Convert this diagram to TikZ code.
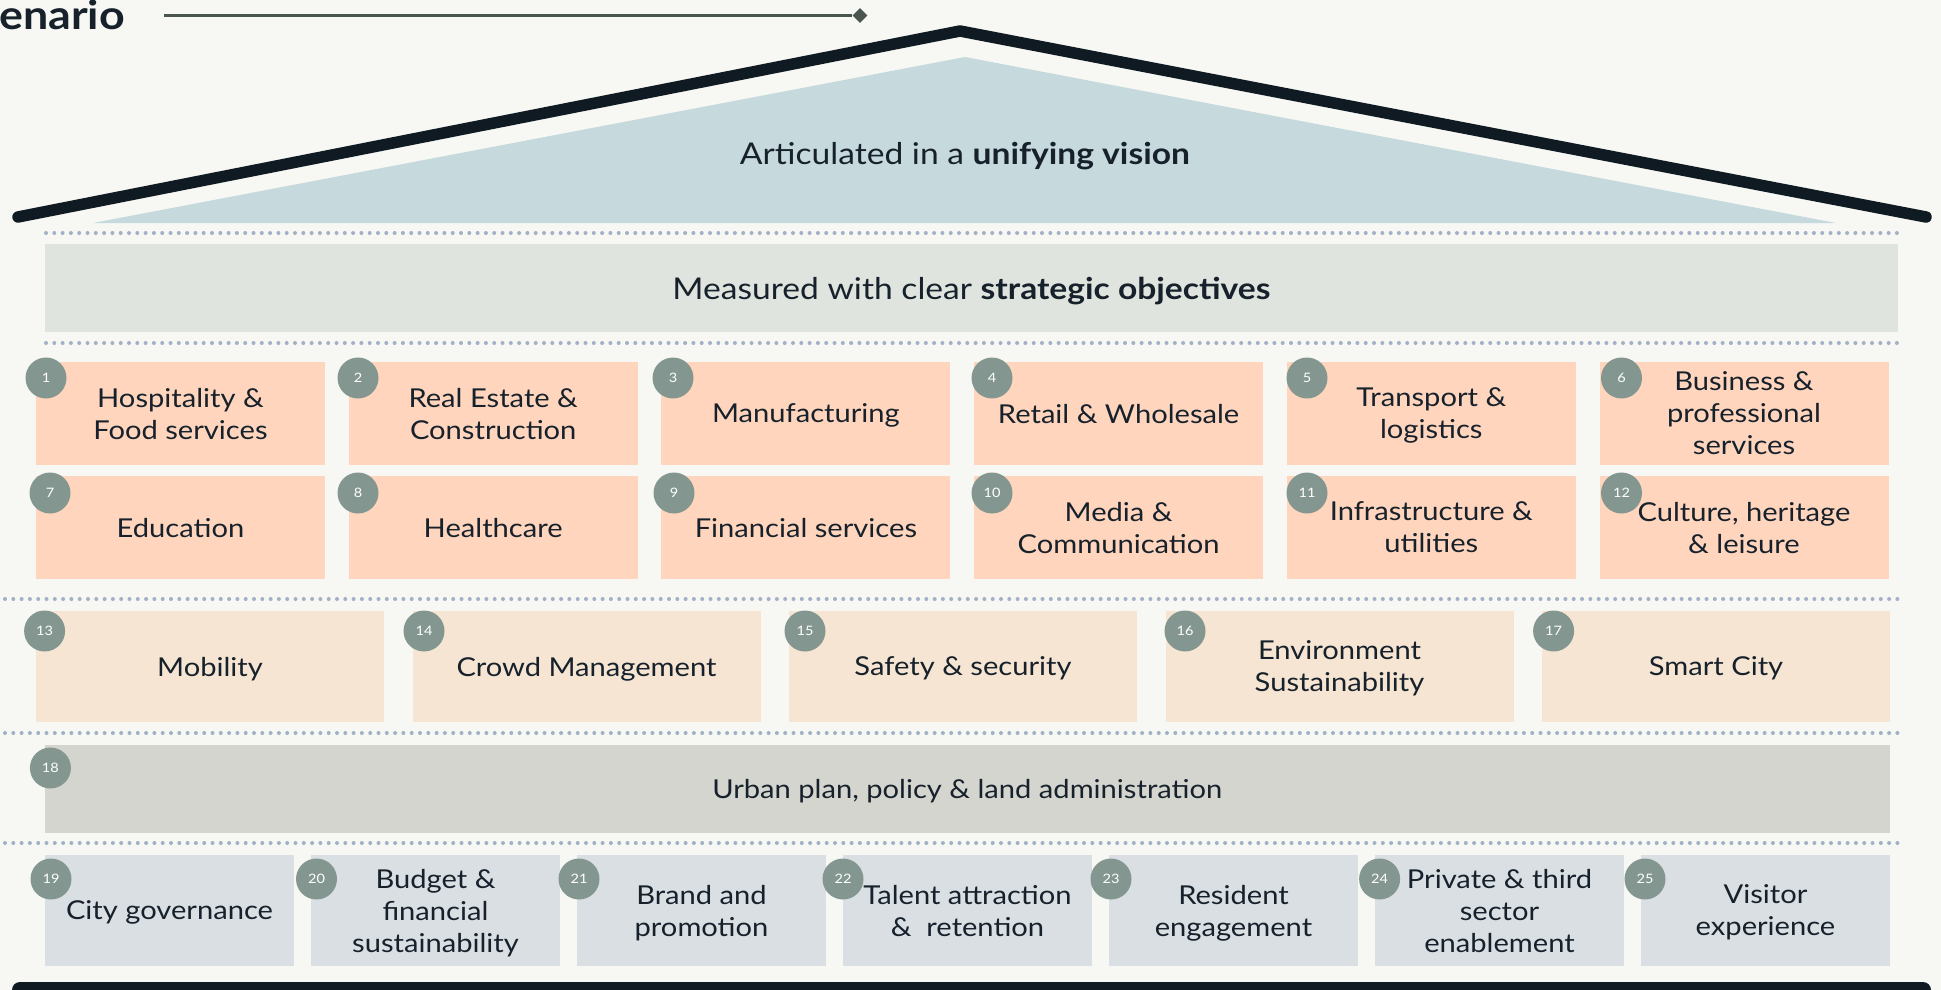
\documentclass[tikz,border=0pt]{standalone}
\usepackage{fontspec}
\setmainfont{Lato}[FakeStretch=1.12]
\usetikzlibrary{shapes.geometric}
\definecolor{bg}{HTML}{F7F8F4}
\definecolor{peach}{HTML}{FFD5BD}
\definecolor{sand}{HTML}{F5E5D2}
\definecolor{urban}{HTML}{D4D5CF}
\definecolor{gov}{HTML}{D9DFE3}
\definecolor{measc}{HTML}{DFE4DF}
\definecolor{roofblue}{HTML}{C6D9DC}
\definecolor{badgec}{HTML}{83968F}
\definecolor{dotc}{HTML}{A3B1C6}
\definecolor{ink}{HTML}{17212B}
\definecolor{roofc}{HTML}{0F1A22}
\definecolor{linec}{HTML}{4A5550}
\begin{document}
\begin{tikzpicture}[x=1pt,y=-1pt,
  lbl/.style={font=\fontsize{26}{32}\selectfont, text=ink, align=center, inner sep=0pt, outer sep=0pt, text depth=-2pt},
  tile/.style={lbl, rectangle, draw=none},
  tileA/.style={tile, fill=peach, minimum width=289pt, minimum height=103pt},
  tileB/.style={tile, fill=sand, minimum width=348pt, minimum height=111pt},
  tileC/.style={tile, fill=gov, minimum width=249pt, minimum height=111pt},
  badge/.style={circle, fill=badgec, text=white, minimum size=41pt, inner sep=0pt, font=\fontsize{13}{13}\selectfont},
  dots/.style={draw=dotc, line width=4pt, line cap=round, dash pattern=on 0pt off 8.3pt},
]
\useasboundingbox (0,0) rectangle (1941,990);
\fill[bg] (0,0) rectangle (1941,990);

% header
\node[anchor=base west, inner sep=0pt, text=ink, font=\bfseries\fontsize{40}{40}\selectfont] (hdr) at (-1,30) {enario};
\coordinate (hl) at (164,15.5);
\node[diamond, fill=linec, minimum size=15pt, inner sep=0pt] (hd) at (860,15.5) {};
\draw[linec, line width=2.2pt] (hl) -- (hd);

% roof
\fill[roofblue] (93,223) -- (965,57) -- (1836,223) -- cycle;
\draw[roofc, line width=11.5pt, line cap=round, line join=round] (18,217) -- (960,31) -- (1926,217);
\node[lbl, font=\fontsize{30}{36}\selectfont] (vision) at (965,153) {Articulated in a \textbf{unifying vision}};

% measured
\draw[dots] (46,233) -- (1898,233);
\node[tile, fill=measc, minimum width=1853pt, minimum height=88pt, font=\fontsize{30}{36}\selectfont] (meas) at (971.5,288) {Measured with clear \textbf{strategic objectives}};
\draw[dots] (46,343) -- (1898,343);

% row 1
\node[tileA] (b1) at (180.5,413.5) {Hospitality \&\\Food services};
\node[tileA] (b2) at (493.2,413.5) {Real Estate \&\\Construction};
\node[tileA] (b3) at (805.9,413.5) {Manufacturing};
\node[tileA] (b4) at (1118.6,413.5) {Retail \& Wholesale};
\node[tileA] (b5) at (1431.3,413.5) {Transport \&\\logistics};
\node[tileA] (b6) at (1744,413.5) {Business \&\\professional\\services};
% row 2
\node[tileA] (b7) at (180.5,527.5) {Education};
\node[tileA] (b8) at (493.2,527.5) {Healthcare};
\node[tileA] (b9) at (805.9,527.5) {Financial services};
\node[tileA] (b10) at (1118.6,527.5) {Media \&\\Communication};
\node[tileA] (b11) at (1431.3,527.5) {Infrastructure \&\\utilities};
\node[tileA] (b12) at (1744,527.5) {Culture, heritage\\\& leisure};

\draw[dots] (5,599) -- (1900,599);
% row 3
\node[tileB] (b13) at (210,666.5) {Mobility};
\node[tileB] (b14) at (586.5,666.5) {Crowd Management};
\node[tileB] (b15) at (963,666.5) {Safety \& security};
\node[tileB] (b16) at (1339.5,666.5) {Environment\\Sustainability};
\node[tileB] (b17) at (1716,666.5) {Smart City};

\draw[dots] (5,733) -- (1900,733);
% row 4
\node[tile, fill=urban, minimum width=1844.5pt, minimum height=88pt] (b18) at (967.25,789) {Urban plan, policy \& land administration};

\draw[dots] (5,843) -- (1900,843);
% row 5
\node[tileC] (b19) at (169.5,910.5) {City governance};
\node[tileC] (b20) at (435.5,910.5) {Budget \&\\financial\\sustainability};
\node[tileC] (b21) at (701.5,910.5) {Brand and\\promotion};
\node[tileC] (b22) at (967.5,910.5) {Talent attraction\\\& \ retention};
\node[tileC] (b23) at (1233.5,910.5) {Resident\\engagement};
\node[tileC] (b24) at (1499.5,910.5) {Private \& third\\sector\\enablement};
\node[tileC] (b25) at (1765.5,910.5) {Visitor\\experience};

% badges
\node[badge] (n1) at (46,378) {1};
\node[badge] (n2) at (358,378) {2};
\node[badge] (n3) at (673,378) {3};
\node[badge] (n4) at (992,378) {4};
\node[badge] (n5) at (1307,378) {5};
\node[badge] (n6) at (1621.5,378) {6};
\node[badge] (n7) at (50,493) {7};
\node[badge] (n8) at (358,493) {8};
\node[badge] (n9) at (674,493) {9};
\node[badge] (n10) at (992,493) {10};
\node[badge] (n11) at (1307,493) {11};
\node[badge] (n12) at (1621.5,493) {12};
\node[badge] (n13) at (44.6,631) {13};
\node[badge] (n14) at (424,631) {14};
\node[badge] (n15) at (805,631) {15};
\node[badge] (n16) at (1185,631) {16};
\node[badge] (n17) at (1553.6,631) {17};
\node[badge] (n18) at (50.4,768) {18};
\node[badge] (n19) at (51,879) {19};
\node[badge] (n20) at (316.5,879) {20};
\node[badge] (n21) at (579,879) {21};
\node[badge] (n22) at (843,879) {22};
\node[badge] (n23) at (1111,879) {23};
\node[badge] (n24) at (1379.6,879) {24};
\node[badge] (n25) at (1645,879) {25};

% base
\fill[roofc, rounded corners=8pt] (12,982) rectangle (1931,1010);
\end{tikzpicture}
\end{document}
